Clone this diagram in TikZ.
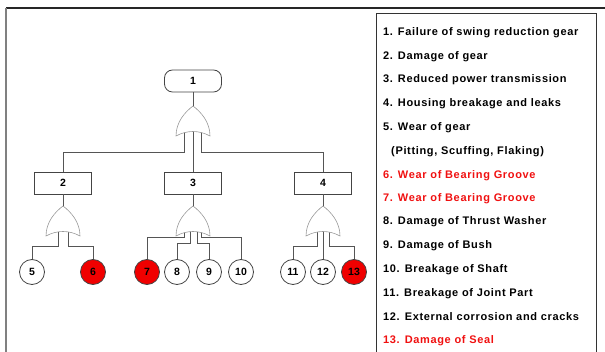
\documentclass[tikz,border=0pt]{standalone}
\usepackage{fontspec}
\setmainfont{Liberation Sans}
\newfontfamily\legendfont[LetterSpace=6]{Liberation Sans}
\definecolor{wirec}{HTML}{555555}
\definecolor{gatec}{HTML}{999999}
\definecolor{boxc}{HTML}{444444}
\definecolor{itemred}{HTML}{F01010}
\definecolor{basered}{HTML}{F00000}
\newcommand\orgate[3]{%
  \draw[gatepath] (#1-17,#2) .. controls (#1-17,#2-14) and (#1-8,#2-24) .. (#1,#2-30)
    .. controls (#1+8,#2-24) and (#1+17,#2-14) .. (#1+17,#2)
    .. controls (#1+6,#2-6) and (#1-6,#2-6) .. cycle;
  \coordinate (#3) at (#1,#2-30);}
\begin{document}
\begin{tikzpicture}[x=1pt,y=-1pt,
  evt/.style={draw=boxc, line width=0.8pt, fill=white, minimum width=57pt, minimum height=22pt, inner sep=0pt, font=\bfseries\fontsize{10.5}{12}\selectfont},
  topevt/.style={evt, rounded corners=8pt},
  basic/.style={circle, draw=boxc, line width=0.8pt, fill=white, minimum size=25pt, inner sep=0pt, font=\bfseries\fontsize{10.5}{12}\selectfont},
  redbasic/.style={basic, fill=basered},
  wire/.style={draw=wirec, line width=0.8pt},
  gatepath/.style={draw=gatec, line width=0.6pt, fill=white},
  item/.style={anchor=west, inner sep=0pt, font=\legendfont\bfseries\fontsize{11}{13}\selectfont},
  reditem/.style={item, text=itemred}]
\useasboundingbox (0,0) rectangle (605,352);
% frame
\draw[line width=1.5pt, black!85] (6,8) -- (605,8);
\draw[line width=2pt, gray] (6,8) -- (6,353);
\draw[line width=0.8pt, black!80] (376,353) -- (376,13) -- (596,13) -- (596,353);
% events
\node[topevt] (n1) at (193,81) {1};
\node[evt] (n2) at (63,183) {2};
\node[evt] (n3) at (193,183) {3};
\node[evt] (n4) at (323,183) {4};
\node[basic] (n5) at (32,272) {5};
\node[redbasic] (n6) at (93,272) {6};
\node[redbasic] (n7) at (147,272) {7};
\node[basic] (n8) at (177,272) {8};
\node[basic] (n9) at (209,272) {9};
\node[basic] (n10) at (241,272) {10};
\node[basic] (n11) at (293,272) {11};
\node[basic] (n12) at (323,272) {12};
\node[redbasic] (n13) at (354,272) {13};
% wires
\coordinate (a1) at (184,126); \coordinate (a2) at (193,126); \coordinate (a3) at (201,126);
\draw[wire] (a1) -- (184,152) -| (n2.north);
\draw[wire] (a2) -- (n3.north);
\draw[wire] (a3) -- (201,152) -| (n4.north);
\coordinate (b1) at (58,226); \coordinate (b2) at (68,226);
\draw[wire] (b1) -- (58,246) -| (n5.north);
\draw[wire] (b2) -- (68,246) -| (n6.north);
\coordinate (c1) at (184,226); \coordinate (c2) at (190,226); \coordinate (c3) at (197,226); \coordinate (c4) at (201,226);
\draw[wire] (c1) -- (184,237) -| (n7.north);
\draw[wire] (c2) -- (190,243) -| (n8.north);
\draw[wire] (c3) -- (197,243) -| (n9.north);
\draw[wire] (c4) -- (201,237) -| (n10.north);
\coordinate (d1) at (317,226); \coordinate (d2) at (323,226); \coordinate (d3) at (329,226);
\draw[wire] (d1) -- (317,246) -| (n11.north);
\draw[wire] (d2) -- (n12.north);
\draw[wire] (d3) -- (329,246) -| (n13.north);
% gates
\orgate{193}{136}{g1}
\orgate{63}{236}{g2}
\orgate{193}{236}{g3}
\orgate{323}{236}{g4}
\draw[wire] (n1.south) -- (g1);
\draw[wire] (n2.south) -- (g2);
\draw[wire] (n3.south) -- (g3);
\draw[wire] (n4.south) -- (g4);
% legend
\node[item] (t1) at (383,33) {1. Failure of swing reduction gear};
\node[item] (t2) at (383,57) {2. Damage of gear};
\node[item] (t3) at (383,80) {3. Reduced power transmission};
\node[item] (t4) at (383,104) {4. Housing breakage and leaks};
\node[item] (t5) at (383,128) {5. Wear of gear};
\node[item] (t5b) at (391,152) {(Pitting, Scuffing, Flaking)};
\node[reditem] (t6) at (383,176) {6. Wear of Bearing Groove};
\node[reditem] (t7) at (383,199) {7. Wear of Bearing Groove};
\node[item] (t8) at (383,222) {8. Damage of Thrust Washer};
\node[item] (t9) at (383,246) {9. Damage of Bush};
\node[item] (t10) at (383,270) {10. Breakage of Shaft};
\node[item] (t11) at (383,294) {11. Breakage of Joint Part};
\node[item] (t12) at (383,317) {12. External corrosion and cracks};
\node[reditem] (t13) at (383,341) {13. Damage of Seal};
\end{tikzpicture}
\end{document}
